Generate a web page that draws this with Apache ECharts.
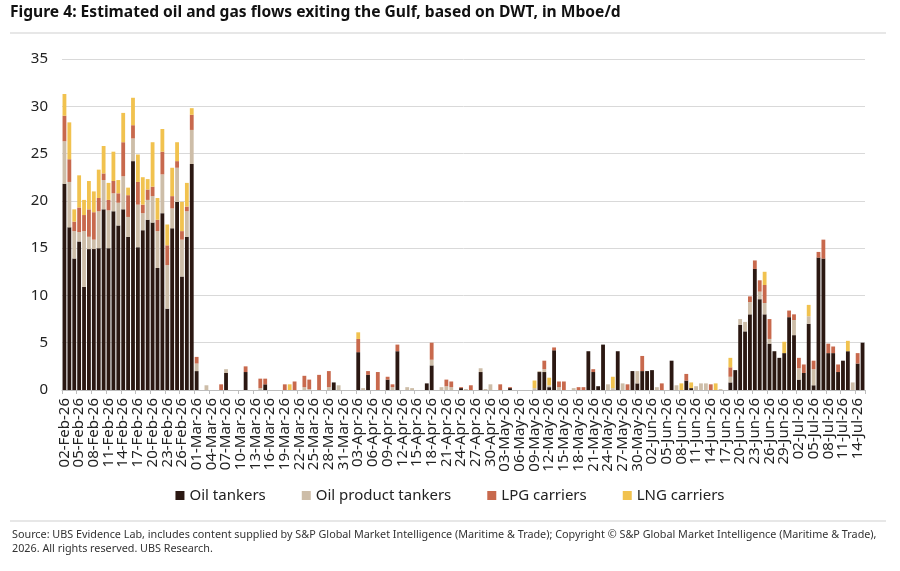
<!DOCTYPE html>
<html>
<head>
<meta charset="utf-8">
<script src="https://cdn.jsdelivr.net/npm/echarts@6/dist/echarts.min.js"></script>
<style>
  html, body { margin: 0; padding: 0; background: #fff; }
  #chart { width: 900px; height: 571px; }
</style>
</head>
<body>
<div id="chart"></div>
<script>
// daily categories, 02-Feb-26 .. 15-Jul-26
const months = ['Feb', 'Mar', 'Apr', 'May', 'Jun', 'Jul']
const monthDays = [[2, 28], [1, 31], [1, 30], [1, 31], [1, 30], [1, 15]]
const days = []
months.forEach((m, i) => {
  for (let d = monthDays[i][0]; d <= monthDays[i][1]; d++) {
    days.push(String(d).padStart(2, '0') + '-' + m + '-26')
  }
})

const seriesNames = ['Oil tankers', 'Oil product tankers', 'LPG carriers', 'LNG carriers']
const yTicks = [0, 5, 10, 15, 20, 25, 30, 35]

const oilTankers = [
  21.8, 17.2, 13.9, 15.7, 10.9, 14.9, 14.9, 15.0, 19.1, 15.0,
  18.9, 17.4, 19.1, 16.2, 24.2, 15.1, 16.9, 18.0, 17.7, 12.9,
  18.7, 8.6, 17.1, 19.9, 12.0, 16.2, 23.9, 2.0,
  0, 0, 0, 0, 0, 1.8, 0, 0, 0, 1.9,
  0, 0, 0, 0.6, 0, 0, 0, 0, 0, 0,
  0, 0, 0, 0, 0, 0, 0, 0.8, 0, 0,
  0, 0, 4.0, 0, 1.6, 0, 0, 0, 1.1, 0,
  4.1, 0, 0, 0, 0, 0, 0.7, 2.6, 0, 0,
  0, 0, 0, 0.2, 0, 0, 0, 1.9, 0, 0,
  0, 0, 0, 0.2, 0, 0, 0, 0, 0, 1.9,
  1.9, 0.3, 4.2, 0, 0, 0, 0, 0, 0, 4.1,
  1.9, 0.4, 4.8, 0, 0, 4.1, 0, 0, 2.0, 0.7,
  2.0, 2.0, 2.1, 0, 0, 0, 3.1, 0, 0, 1.0,
  0.2, 0, 0, 0, 0, 0, 0, 0, 0.8, 2.1,
  6.9, 6.2, 8.0, 12.8, 9.6, 8.0, 4.9, 4.1, 3.4, 3.9,
  7.7, 5.8, 1.1, 1.8, 7.0, 0.5, 14.0, 13.9, 3.9, 3.9,
  1.9, 3.1, 4.1, 0, 2.8, 5.0
]
const productTankers = [
  4.5, 4.8, 2.9, 1.0, 5.9, 1.3, 1.0, 3.9, 3.1, 4.0,
  1.9, 2.4, 3.5, 2.1, 2.4, 4.5, 1.8, 2.1, 2.8, 3.9,
  4.1, 4.6, 2.1, 3.6, 3.9, 2.7, 3.6, 0.8,
  0, 0.5, 0, 0, 0, 0.4, 0, 0, 0, 0,
  0, 0, 0.2, 0, 0, 0, 0, 0, 0, 0,
  0, 0.3, 0.1, 0, 0, 0, 0.3, 0, 0.5, 0,
  0, 0, 0, 0.2, 0, 0, 0, 0, 0, 0.3,
  0, 0, 0.3, 0.2, 0, 0, 0, 0.6, 0, 0.3,
  0.4, 0.3, 0, 0, 0.1, 0, 0, 0.4, 0.1, 0.6,
  0, 0, 0, 0, 0, 0, 0, 0, 0.2, 0.1,
  0.3, 0.2, 0, 0.3, 0, 0, 0.2, 0, 0, 0,
  0, 0, 0, 0.6, 0.2, 0, 0.7, 0, 0, 1.3,
  0, 0, 0, 0.3, 0, 0, 0, 0.5, 0, 0,
  0, 0.4, 0.7, 0.7, 0, 0, 0.1, 0, 0.6, 0,
  0.6, 1.0, 1.3, 0, 0.8, 1.2, 0.5, 0, 0, 0,
  0, 1.6, 1.2, 0, 0.8, 1.7, 0, 0, 0, 0,
  0, 0, 0, 0.8, 0, 0
]
const lpgCarriers = [
  2.7, 2.4, 1.0, 2.6, 1.7, 2.9, 2.9, 1.4, 0.7, 1.1,
  1.3, 1.0, 3.6, 2.3, 1.4, 2.4, 0.9, 1.1, 1.0, 1.2,
  2.4, 2.1, 1.3, 0.7, 0.9, 0.5, 1.6, 0.7,
  0, 0, 0, 0, 0.6, 0, 0, 0, 0, 0.6,
  0, 0, 1.0, 0.6, 0, 0, 0, 0.6, 0, 0.9,
  0, 1.2, 1.0, 0, 1.6, 0, 1.7, 0, 0, 0,
  0, 0, 1.4, 0, 0.4, 0, 1.9, 0, 0.3, 0.3,
  0.7, 0, 0, 0, 0, 0, 0, 1.8, 0, 0,
  0.7, 0.6, 0, 0.1, 0, 0.5, 0, 0, 0, 0,
  0, 0.6, 0, 0.1, 0, 0, 0, 0, 0, 0,
  0.9, 0, 0.3, 0.6, 0.9, 0, 0, 0.3, 0.3, 0,
  0.3, 0, 0, 0, 0, 0, 0, 0.6, 0, 0,
  1.6, 0, 0, 0, 0.7, 0, 0, 0, 0, 0.7,
  0, 0, 0, 0, 0.6, 0, 0, 0, 1.0, 0,
  0, 0, 0.6, 0.9, 1.2, 1.9, 2.1, 0, 0, 0,
  0.7, 0.6, 1.1, 0.9, 0, 0.9, 0.6, 2.0, 1.0, 0.7,
  0.8, 0, 0, 0, 1.1, 0
]
const lngCarriers = [
  2.3, 3.9, 1.3, 3.4, 1.6, 3.0, 2.2, 3.0, 2.9, 1.8,
  3.1, 1.4, 3.1, 0.8, 2.9, 2.9, 2.9, 1.1, 4.7, 2.3,
  2.4, 2.2, 3.0, 2.0, 3.1, 2.5, 0.7, 0,
  0, 0, 0, 0, 0, 0, 0, 0, 0, 0,
  0, 0, 0, 0, 0, 0, 0, 0, 0.6, 0,
  0, 0, 0, 0, 0, 0, 0, 0, 0, 0,
  0, 0, 0.7, 0, 0, 0, 0, 0, 0, 0,
  0, 0, 0, 0, 0, 0, 0, 0, 0, 0,
  0, 0, 0, 0, 0, 0, 0, 0, 0, 0,
  0, 0, 0, 0, 0, 0, 0, 0, 0.8, 0,
  0, 0.8, 0, 0, 0, 0, 0, 0, 0, 0,
  0, 0, 0, 0, 1.2, 0, 0, 0, 0, 0,
  0, 0, 0, 0, 0, 0, 0, 0, 0.7, 0,
  0.6, 0, 0, 0, 0, 0.7, 0, 0, 1.0, 0,
  0, 0, 0, 0, 0, 1.4, 0, 0, 0, 1.2,
  0, 0, 0, 0, 1.2, 0, 0, 0, 0, 0,
  0, 0, 1.1, 0, 0, 0
]

const colors = ['#2b1812', '#cdbda8', '#c8694d', '#f1c24f']
const font = '"Noto Sans", "Open Sans", sans-serif'

const chart = echarts.init(document.getElementById('chart'), null, { renderer: 'canvas' })

const values = [oilTankers, productTankers, lpgCarriers, lngCarriers]
const everyThird = i => i % 3 === 0

chart.setOption({
  animation: false,
  color: colors,
  textStyle: { fontFamily: font },
  grid: { left: 62, right: 35, top: 59, bottom: 181 },
  legend: {
    data: seriesNames,
    left: 'center',
    top: 483,
    icon: 'rect',
    itemWidth: 9,
    itemHeight: 9,
    itemGap: 36,
    textStyle: { fontSize: 15, color: '#222', fontFamily: font }
  },
  xAxis: {
    type: 'category',
    data: days,
    axisLine: { lineStyle: { color: '#bdbdbd' } },
    axisTick: { show: true, interval: everyThird, length: 4, lineStyle: { color: '#bdbdbd' } },
    axisLabel: {
      interval: 0,
      formatter: (v, i) => (everyThird(i) ? v : ''),
      rotate: 90, fontSize: 15, lineHeight: 12,
      color: '#222', margin: 8, fontFamily: font
    }
  },
  yAxis: {
    type: 'value',
    min: yTicks[0],
    max: yTicks[yTicks.length - 1],
    interval: 5,
    axisLine: { show: false },
    axisTick: { show: false },
    splitLine: { lineStyle: { color: '#d9d9d9' } },
    axisLabel: { fontSize: 15, color: '#222', margin: 14, fontFamily: font }
  },
  series: seriesNames.map((name, i) => ({
    name,
    type: 'bar',
    stack: 'flows',
    data: values[i],
    barCategoryGap: '22%',
    itemStyle: { color: colors[i] }
  })),
  graphic: [
    {
      type: 'text', left: 10, top: 5,
      style: {
        text: 'Figure 4: Estimated oil and gas flows exiting the Gulf, based on DWT, in Mboe/d',
        font: 'bold 15.6px ' + font, fill: '#111'
      }
    },
    { type: 'line', shape: { x1: 10, y1: 33, x2: 886, y2: 33 }, style: { stroke: '#cfcfcf', lineWidth: 1 } },
    { type: 'line', shape: { x1: 10, y1: 521, x2: 886, y2: 521 }, style: { stroke: '#cfcfcf', lineWidth: 1 } },
    {
      type: 'text', left: 12, top: 528,
      style: {
        text: 'Source: UBS Evidence Lab, includes content supplied by S&P Global Market Intelligence (Maritime & Trade); Copyright © S&P Global Market Intelligence (Maritime & Trade),\n2026. All rights reserved. UBS Research.',
        font: '10.8px "Liberation Sans Narrow", "Noto Sans", sans-serif', fill: '#333', lineHeight: 14
      }
    }
  ]
})

window.addEventListener('resize', () => chart.resize())
</script>
</body>
</html>
